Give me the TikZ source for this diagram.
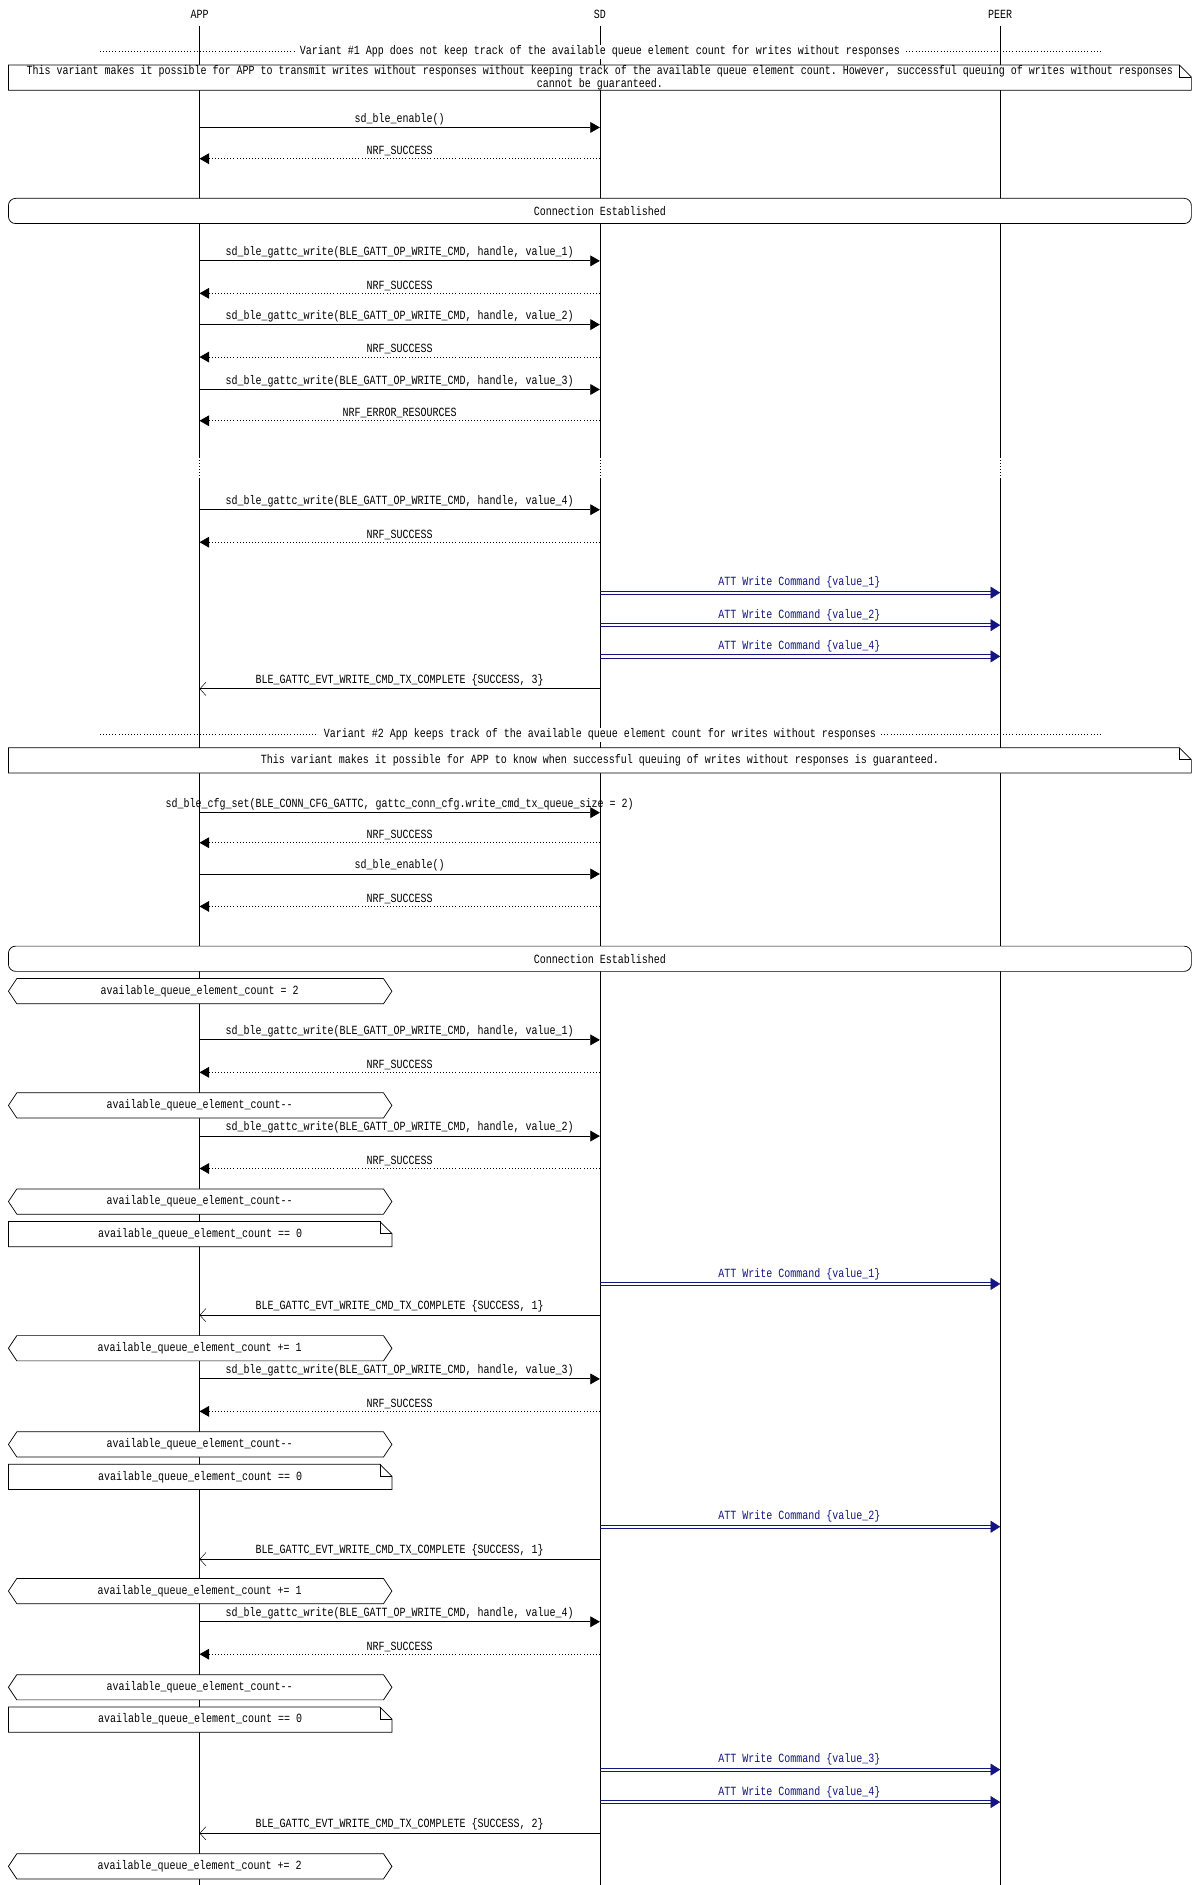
\documentclass[tikz,border=0pt]{standalone}
\usepackage{fontspec}
\setmonofont[FakeStretch=0.8]{Liberation Mono}
\usetikzlibrary{arrows.meta, positioning}
\definecolor{attblue}{RGB}{20,20,130}
\tikzset{
        every node/.style={font=\ttfamily\fontsize{10.4}{11}\selectfont, inner sep=1pt},
        lifeline/.style={draw=black, line width=0.5pt},
        call/.style={line width=0.7pt, -{Triangle[length=8pt,width=9pt]}},
        ret/.style={line width=0.6pt, dotted, -{Triangle[length=8pt,width=9pt]}},
        evt/.style={line width=0.7pt, -{Straight Barb[length=5pt,width=11pt,line width=0.4pt]}},
        att/.style={draw=attblue, line width=0.7pt},
        att tip/.style={draw=attblue, fill=attblue, -{Triangle[length=8pt,width=10pt]}},
        msg label/.style={above, yshift=1pt},
        box/.style={draw=black, fill=white, line width=0.6pt},
        divider/.style={dotted, line width=0.6pt},
    }
% message from x #3 to x #4 at height #2
\newcommand\seqmsg[6]{%
  \coordinate (#1f) at (#3,#2); \coordinate (#1t) at (#4,#2);
  \draw[#5] (#1f) -- node[msg label] (#1l) {#6} (#1t);}
% att write command SD -> PEER
\newcommand\attmsg[3]{%
  \coordinate (#1f) at (499,#2); \coordinate (#1t) at (832,#2);
  \draw[att] ([yshift=-1.3pt]#1f) -- ([yshift=-1.3pt, xshift=-6pt]#1t);
  \draw[att] ([yshift=1.3pt]#1f) -- ([yshift=1.3pt, xshift=-6pt]#1t);
  \draw[att tip] ([xshift=-7pt]#1t) -- (#1t);
  \node[msg label, text=attblue, yshift=1.3pt] (#1l) at (665,#2) {#3};}
\newcommand\hexnote[3]{%
  \draw[box] (7,#2+10.5) -- (14,#2) -- (319,#2) -- (326,#2+10.5) -- (319,#2+21) -- (14,#2+21) -- cycle;
  \node (#1) at (166,#2+10.5) {#3};}
\newcommand\foldnote[4]{%
  \draw[box] (7,#2) -- (#3-10,#2) -- (#3,#2+10) -- (#3,#2+21) -- (7,#2+21) -- cycle;
  \draw[line width=0.5pt] (#3-10,#2) -- (#3-10,#2+10) -- (#3,#2+10);
  \node (#1) at ({(7+#3)/2},#2+10.5) {#4};}
\newcommand\divider[3]{%
  \draw[divider] (83,#2) -- (916,#2);
  \node[fill=white, inner xsep=4pt] (#1) at (499,#2) {#3};}
\newcommand\connbox[2]{%
  \draw[box, rounded corners=6pt] (7,#2) rectangle (991,#2+21);
  \node (#1) at (499,#2+10.5) {Connection Established};}
\newcommand\writecmd[3]{\seqmsg{#1}{#2}{166}{499}{call}{sd\_ble\_gattc\_write(BLE\_GATT\_OP\_WRITE\_CMD, handle, value\_#3)}}
\newcommand\success[2]{\seqmsg{#1}{#2}{499}{166}{ret}{NRF\_SUCCESS}}
\newcommand\txdone[3]{\seqmsg{#1}{#2}{499}{166}{evt}{BLE\_GATTC\_EVT\_WRITE\_CMD\_TX\_COMPLETE \{SUCCESS, #3\}}}

\begin{document}
\begin{tikzpicture}[x=1pt, y=-1pt]
  \useasboundingbox (0,0) rectangle (998,1568);
  % participants
  \node (app) at (166,12) {APP};
  \node (sd) at (499,12) {SD};
  \node (peer) at (832,12) {PEER};
  \foreach \x/\p in {166/app, 499/sd, 832/peer} {
    \draw[lifeline] (\x,22) -- (\x,380);
    \draw[lifeline, dotted] (\x,380) -- (\x,398);
    \draw[lifeline] (\x,398) -- (\x,1568);
  }

  % variant 1
  \divider{var1}{43}{Variant \#1 App does not keep track of the available queue element count for writes without responses}
  \foldnote{note1}{54}{991}{\parbox{975pt}{\centering\fontsize{10.4}{9.6}\selectfont This variant makes it possible for APP to transmit writes without responses without keeping track of the available queue element count. However, successful queuing of writes without responses\\ cannot be guaranteed.}}
  \seqmsg{en1}{106}{166}{499}{call}{sd\_ble\_enable()}
  \success{ok1}{132}
  \connbox{conn1}{165}
  \writecmd{w11}{217}{1}
  \success{ok11}{244}
  \writecmd{w12}{270}{2}
  \success{ok12}{297}
  \writecmd{w13}{324}{3}
  \seqmsg{err13}{350}{499}{166}{ret}{NRF\_ERROR\_RESOURCES}
  \writecmd{w14}{424}{4}
  \success{ok14}{451}
  \attmsg{att11}{493}{ATT Write Command \{value\_1\}}
  \attmsg{att12}{520}{ATT Write Command \{value\_2\}}
  \attmsg{att14}{546}{ATT Write Command \{value\_4\}}
  \txdone{tx1}{573}{3}

  % variant 2
  \divider{var2}{611}{Variant \#2 App keeps track of the available queue element count for writes without responses}
  \foldnote{note2}{622}{991}{This variant makes it possible for APP to know when successful queuing of writes without responses is guaranteed.}
  \seqmsg{cfg}{676}{166}{499}{call}{sd\_ble\_cfg\_set(BLE\_CONN\_CFG\_GATTC, gattc\_conn\_cfg.write\_cmd\_tx\_queue\_size = 2)}
  \success{ok2}{701}
  \seqmsg{en2}{727}{166}{499}{call}{sd\_ble\_enable()}
  \success{ok3}{754}
  \connbox{conn2}{787}
  \hexnote{cnt0}{814}{available\_queue\_element\_count = 2}
  \writecmd{w21}{865}{1}
  \success{ok21}{892}
  \hexnote{dec1}{909}{available\_queue\_element\_count-{}-}
  \writecmd{w22}{945}{2}
  \success{ok22}{972}
  \hexnote{dec2}{989}{available\_queue\_element\_count-{}-}
  \foldnote{zero1}{1016}{326}{available\_queue\_element\_count == 0}
  \attmsg{att21}{1068}{ATT Write Command \{value\_1\}}
  \txdone{tx2}{1094}{1}
  \hexnote{inc1}{1111}{available\_queue\_element\_count += 1}
  \writecmd{w23}{1147}{3}
  \success{ok23}{1174}
  \hexnote{dec3}{1191}{available\_queue\_element\_count-{}-}
  \foldnote{zero2}{1218}{326}{available\_queue\_element\_count == 0}
  \attmsg{att22}{1270}{ATT Write Command \{value\_2\}}
  \txdone{tx3}{1297}{1}
  \hexnote{inc2}{1313}{available\_queue\_element\_count += 1}
  \writecmd{w24}{1349}{4}
  \success{ok24}{1376}
  \hexnote{dec4}{1393}{available\_queue\_element\_count-{}-}
  \foldnote{zero3}{1420}{326}{available\_queue\_element\_count == 0}
  \attmsg{att23}{1472}{ATT Write Command \{value\_3\}}
  \attmsg{att24}{1499}{ATT Write Command \{value\_4\}}
  \txdone{tx4}{1525}{2}
  \hexnote{inc3}{1542}{available\_queue\_element\_count += 2}
\end{tikzpicture}
\end{document}
